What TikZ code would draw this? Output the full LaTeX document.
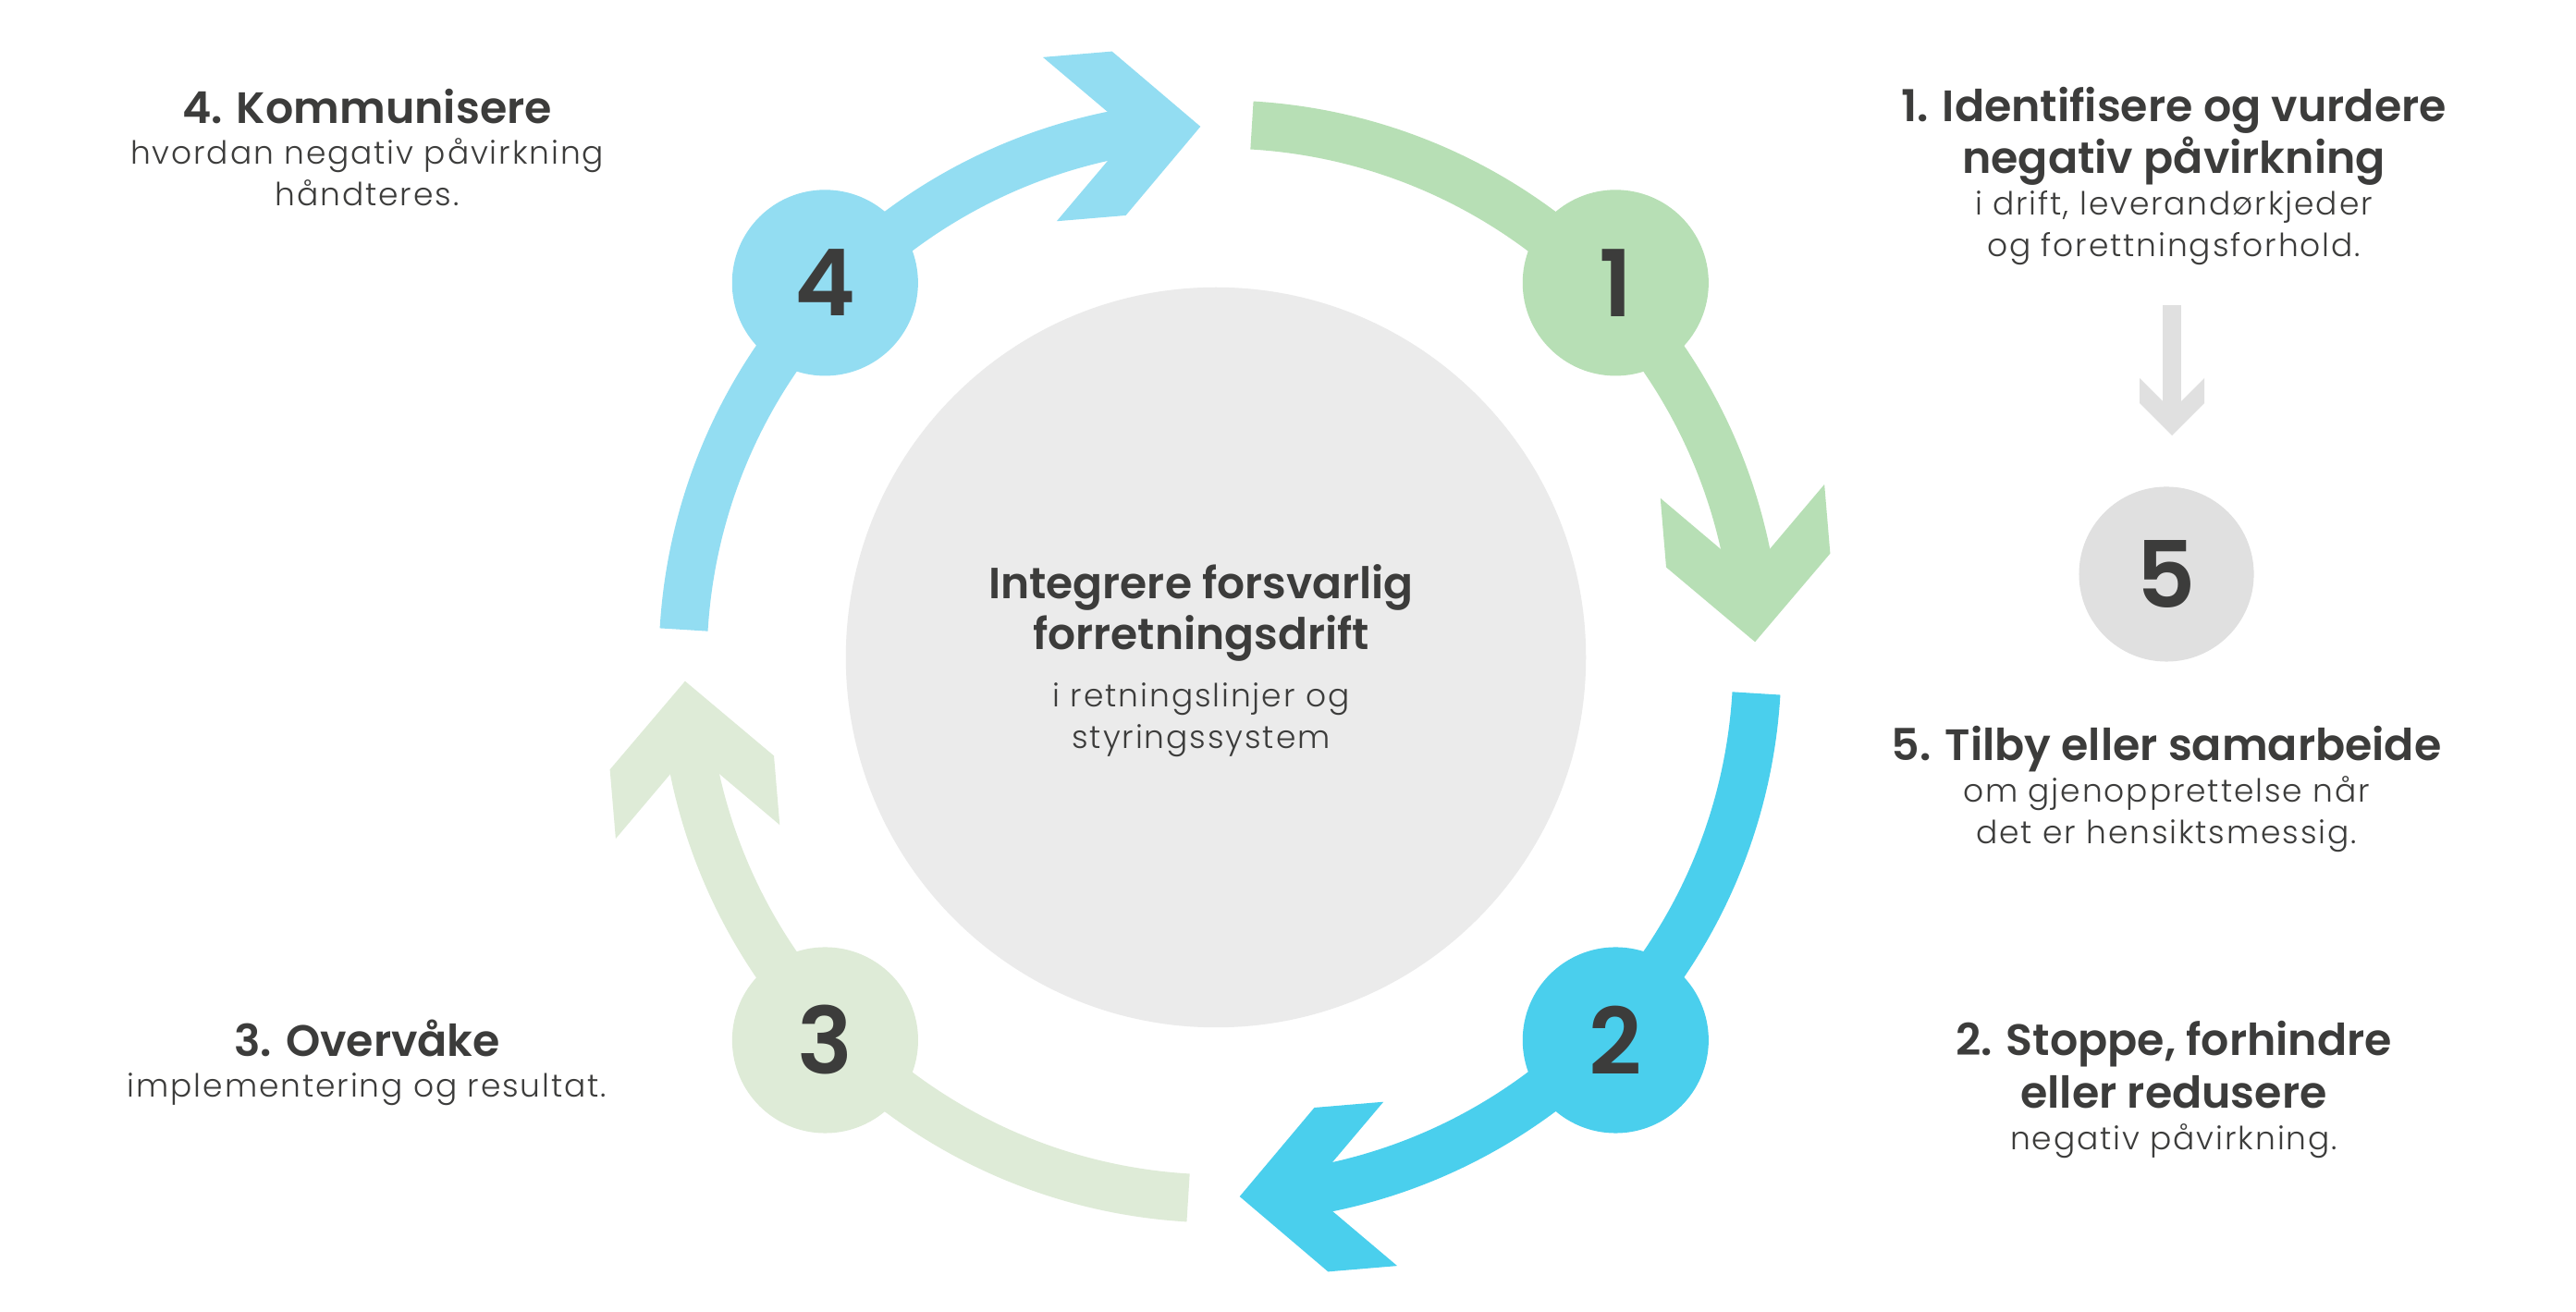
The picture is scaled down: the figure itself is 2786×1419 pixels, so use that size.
\documentclass[tikz,border=0pt]{standalone}
\usepackage{fontspec}
\setmainfont{Poppins}[BoldFont={Poppins SemiBold}]
\newfontfamily\lightfont{Poppins Light}[LetterSpace=5.5]
\usetikzlibrary{calc}
\definecolor{txt}{HTML}{3C3C3B}
\definecolor{gA}{HTML}{B7DFB5}
\definecolor{bB}{HTML}{4ACFED}
\definecolor{gC}{HTML}{DEEBD7}
\definecolor{bD}{HTML}{93DDF2}
\definecolor{core}{HTML}{EBEBEB}
\definecolor{gE}{HTML}{E0E0E0}
\tikzset{
  ttl/.style={font=\bfseries\fontsize{13.5}{16}\selectfont, text=txt, anchor=base, inner sep=0pt},
  ctl/.style={font=\bfseries\fontsize{13.4}{16}\selectfont, text=txt, anchor=base, inner sep=0pt},
  lt/.style={font=\lightfont\fontsize{9.8}{11}\selectfont, text=txt, anchor=base, inner sep=0pt},
  num/.style={circle, inner sep=0pt, minimum size=2.01cm, font=\bfseries\fontsize{28.4}{30}\selectfont, text=txt},
  band/.style={line width=0.52cm},
}
\begin{document}
\begin{tikzpicture}[x=0.01cm,y=0.01cm]
\useasboundingbox (0,0) rectangle (2786,1419);
\fill[white] (0,0) rectangle (2786,1419);
\coordinate (C) at (1319.5,703.5);
% central disc
\node[circle, fill=core, minimum size=8cm, inner sep=0pt] (coredisc) at (1315,708) {};
% four arcs with arrow heads
\foreach \k/\col in {0/gA,1/bB,2/gC,3/bD}{
  \begin{scope}[shift={(C)}, rotate=-90*\k]
    \draw[band, \col] (86.6:581) arc[start angle=86.6, end angle=6.5, radius=581];
    \fill[\col, shift={(2.1:579)}, rotate=94.8] (0,0) -- (88.5,89) -- (163.5,89) -- (74.5,0) -- (163.5,-89) -- (88.5,-89) -- cycle;
  \end{scope}
}
% step circles
\node[num, fill=gA] (c1) at (1747.3,1113.1) {1};
\node[num, fill=bB] (c2) at (1747.3,294) {2};
\node[num, fill=gC] (c3) at (892.4,294) {3};
\node[num, fill=bD] (c4) at (892.3,1113.1) {4};
\node[num, fill=gE, minimum size=1.89cm] (c5) at (2343,798) {5};
% grey arrow towards step 5
\coordinate (a5s) at (2349,1089);
\coordinate (a5e) at (2349,975);
\draw[gE, line width=0.2cm] (a5s) -- (a5e);
\fill[gE] (2349,948) -- (2314,983) -- (2314,1010) -- (2349,975) -- (2384,1010) -- (2384,983) -- cycle;
% centre text
\node[ctl] (m1) at (1299,771.9) {Integrere forsvarlig};
\node[ctl] (m2) at (1299,716.4) {forretningsdrift};
\node[lt] (m3) at (1299,654.4) {i retningslinjer og};
\node[lt] (m4) at (1299,609.3) {styringssystem};
% block 1
\node[ttl] (t1a) at (2351,1287.2) {1. Identifisere og vurdere};
\node[ttl] (t1b) at (2351,1231.2) {negativ påvirkning};
\node[lt] (t1c) at (2351,1186.3) {i drift, leverandørkjeder};
\node[lt] (t1d) at (2351,1141.4) {og forettningsforhold.};
% block 5
\node[ttl] (t5a) at (2343,596.6) {5. Tilby eller samarbeide};
\node[lt] (t5b) at (2343,551.7) {om gjenopprettelse når};
\node[lt] (t5c) at (2343,506.8) {det er hensiktsmessig.};
% block 2
\node[ttl] (t2a) at (2351,277.4) {2. Stoppe, forhindre};
\node[ttl] (t2b) at (2351,220.3) {eller redusere};
\node[lt] (t2c) at (2351,175.6) {negativ påvirkning.};
% block 3
\node[ttl] (t3a) at (397,276.3) {3. Overvåke};
\node[lt] (t3b) at (397,232) {implementering og resultat.};
% block 4
\node[ttl] (t4a) at (397,1285.6) {4. Kommunisere};
\node[lt] (t4b) at (397,1241.6) {hvordan negativ påvirkning};
\node[lt] (t4c) at (397,1196) {håndteres.};
\end{tikzpicture}
\end{document}
